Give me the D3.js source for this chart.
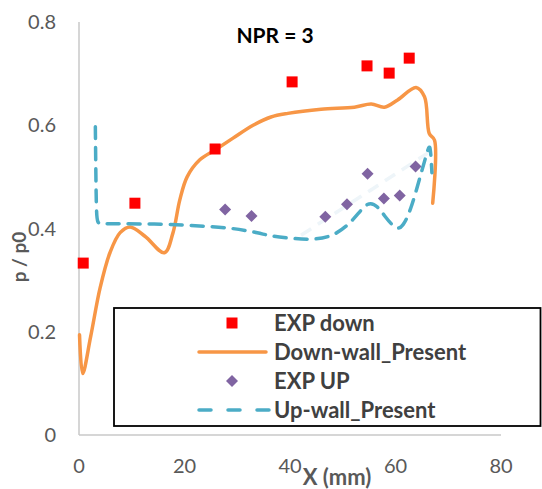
<!DOCTYPE html>
<html>
<head>
<meta charset="utf-8">
<script src="https://cdn.jsdelivr.net/npm/d3@7"></script>
<style>
body{margin:0;background:#fff;}
svg text{font-family:Lato,"Open Sans",sans-serif;}
</style>
</head>
<body>
<svg id="chart" width="542" height="489"></svg>
<script>
// EXP down (red squares)
var expDownX = [0.8, 10.6, 25.8, 40.4, 54.6, 58.8, 62.6];
var expDownY = [0.333, 0.449, 0.554, 0.684, 0.715, 0.701, 0.730];
// EXP UP (purple diamonds)
var expUpX = [27.7, 32.7, 46.7, 50.8, 54.7, 57.8, 60.8, 63.8];
var expUpY = [0.437, 0.424, 0.423, 0.447, 0.506, 0.458, 0.464, 0.520];
// Down-wall_Present
var downX = [0.1, 0.7, 2.2, 4.0, 5.9, 7.8, 9.7, 12.5, 16.2, 17.8, 19.1, 20.5, 22.9, 25.8, 29.2, 33.0, 36.4, 39.6, 45.9, 52.2, 55.4, 57.9, 60.4, 63.9, 65.5, 66.4, 67.4, 67.05];
var downY = [0.194, 0.119, 0.19, 0.285, 0.354, 0.392, 0.403, 0.385, 0.353, 0.391, 0.455, 0.500, 0.533, 0.552, 0.575, 0.600, 0.616, 0.623, 0.631, 0.635, 0.641, 0.635, 0.649, 0.673, 0.655, 0.584, 0.571, 0.449];
// Up-wall_Present
var upX = [3.1, 3.1, 3.2, 3.3, 3.5, 4.2, 8, 16, 22.9, 29.2, 34.3, 36.4, 40.2, 44.0, 48.3, 52.1, 54.8, 56.7, 57.8, 60.1, 61.4, 62.9, 64.5, 66.1, 66.6, 66.9, 66.9];
var upY = [0.597, 0.597, 0.50, 0.43, 0.41, 0.409, 0.409, 0.409, 0.405, 0.401, 0.391, 0.385, 0.381, 0.378, 0.384, 0.416, 0.455, 0.442, 0.426, 0.397, 0.403, 0.436, 0.494, 0.552, 0.566, 0.508, 0.508];
// faint trace
var faintX = [42.1, 66.1];
var faintY = [0.387, 0.546];

var xTicks = [0, 20, 40, 60, 80];
var yTicks = [0, 0.2, 0.4, 0.6, 0.8];
var legendNames = ["EXP down", "Down-wall_Present", "EXP UP", "Up-wall_Present"];

var svg = d3.select("#chart");
var x = d3.scaleLinear().domain([0, 80]).range([79, 501]);
var y = d3.scaleLinear().domain([0, 0.8]).range([435, 22]);

function zip(a, b){ return a.map(function(d, i){ return [d, b[i]]; }); }

// axes
svg.append("line").attr("x1", x(0)).attr("x2", x(80)).attr("y1", y(0)).attr("y2", y(0))
    .attr("stroke", "#c8c8c8").attr("stroke-width", 1.5);
svg.append("line").attr("x1", x(0)).attr("x2", x(0)).attr("y1", y(0)).attr("y2", y(0.8))
    .attr("stroke", "#c8c8c8").attr("stroke-width", 1.5);

svg.selectAll(".ytick").data(yTicks).enter().append("text")
    .attr("x", 56).attr("y", function(d){ return y(d); }).attr("dy", "0.35em")
    .attr("text-anchor", "end").attr("fill", "#595959").attr("font-size", 20)
    .text(function(d){ return d3.format("")(d); });
svg.selectAll(".xtick").data(xTicks).enter().append("text")
    .attr("x", function(d){ return x(d); }).attr("y", 466).attr("dy", "0.35em")
    .attr("text-anchor", "middle").attr("fill", "#595959").attr("font-size", 20)
    .text(function(d){ return d; });

svg.append("text").attr("x", 337).attr("y", 485).attr("text-anchor", "middle")
    .attr("font-weight", "bold").attr("font-size", 22).attr("fill", "#595959").text("X (mm)");
svg.append("text").attr("transform", "translate(26,257) rotate(-90)").attr("text-anchor", "middle")
    .attr("font-weight", "bold").attr("font-size", 19).attr("fill", "#595959").text("p / p0");
svg.append("text").attr("x", 275).attr("y", 43).attr("text-anchor", "middle")
    .attr("font-weight", "bold").attr("font-size", 21).attr("fill", "#000").text("NPR = 3");

var curved = d3.line().x(function(d){ return x(d[0]); }).y(function(d){ return y(d[1]); })
    .curve(d3.curveCatmullRom.alpha(0.5));
var smooth = d3.line().x(function(d){ return x(d[0]); }).y(function(d){ return y(d[1]); })
    .curve(d3.curveBasis);

svg.append("path").datum(zip(faintX, faintY)).attr("d", curved).attr("fill", "none")
    .attr("stroke", "#eef5f9").attr("stroke-width", 3.5).attr("stroke-dasharray", "12,8");
svg.append("path").datum(zip(downX, downY)).attr("d", curved).attr("fill", "none")
    .attr("stroke", "#F79646").attr("stroke-width", 3.5).attr("stroke-linecap", "round");
svg.append("path").datum(zip(upX, upY)).attr("d", smooth).attr("fill", "none")
    .attr("stroke", "#4BACC6").attr("stroke-width", 3.5).attr("stroke-dasharray", "12,9")
    .attr("stroke-linecap", "round");

var sq = d3.symbol().type(d3.symbolSquare).size(121);
var dia = d3.symbol().type(d3.symbolSquare).size(72);
svg.selectAll(".down").data(zip(expDownX, expDownY)).enter().append("path")
    .attr("d", sq).attr("fill", "#FF0000")
    .attr("transform", function(d){ return "translate(" + x(d[0]) + "," + y(d[1]) + ")"; });
svg.selectAll(".up").data(zip(expUpX, expUpY)).enter().append("path")
    .attr("d", dia).attr("fill", "#8064A2")
    .attr("transform", function(d){ return "translate(" + x(d[0]) + "," + y(d[1]) + ") rotate(45)"; });

// legend
var leg = svg.append("g");
leg.append("rect").attr("x", 114).attr("y", 308).attr("width", 426.5).attr("height", 118)
    .attr("fill", "#fff").attr("stroke", "#000").attr("stroke-width", 1.8);
var rowY = [323, 352, 381, 410];
legendNames.forEach(function(name, i){
    var ry = rowY[i];
    if(i == 0) leg.append("path").attr("d", sq).attr("fill", "#FF0000").attr("transform", "translate(232," + ry + ")");
    if(i == 2) leg.append("path").attr("d", dia).attr("fill", "#8064A2").attr("transform", "translate(232," + ry + ") rotate(45)");
    if(i == 1) leg.append("line").attr("x1", 199).attr("x2", 266).attr("y1", ry).attr("y2", ry)
        .attr("stroke", "#F79646").attr("stroke-width", 3.5).attr("stroke-linecap", "round");
    if(i == 3) leg.append("line").attr("x1", 199).attr("x2", 270).attr("y1", ry).attr("y2", ry)
        .attr("stroke", "#4BACC6").attr("stroke-width", 3.5).attr("stroke-dasharray", "12,17")
        .attr("stroke-linecap", "round");
    leg.append("text").attr("x", 274).attr("y", ry).attr("dy", "0.35em")
        .attr("font-weight", "bold").attr("font-size", 22).attr("fill", "#404040").text(name);
});
</script>
</body>
</html>
